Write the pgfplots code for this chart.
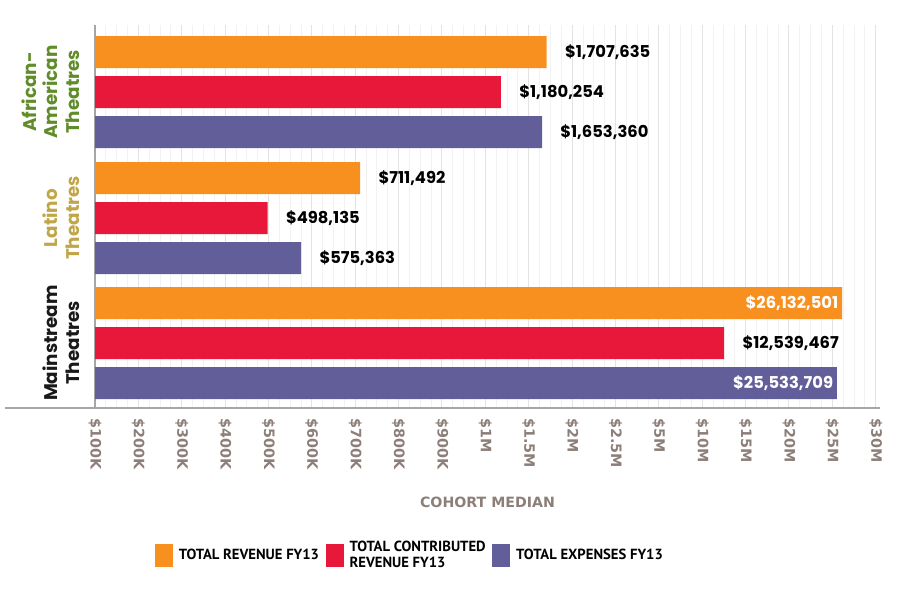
\documentclass[border=0pt]{standalone}
\usepackage{fontspec}
\usepackage{pgfplots}
\pgfplotsset{compat=1.18}
\usepackage{pgfplotstable}
\setmainfont{Poppins}
\newfontfamily\ptsans{PT Sans}
\newfontfamily\dejavu{DejaVu Sans}
\definecolor{cOr}{RGB}{247,144,30}
\definecolor{cRd}{RGB}{232,24,58}
\definecolor{cPu}{RGB}{98,94,154}
\definecolor{cGr}{RGB}{96,140,42}
\definecolor{cGo}{RGB}{192,166,72}
\definecolor{cTk}{RGB}{140,126,120}
\newcommand{\inside}[1]{\llap{\color{white}#1\hspace{13.8pt}}}

% v = value in millions of dollars
\pgfplotstableread{
y v lab
0 1.707635 \$1,707,635
3.15 0.711492 \$711,492
6.275 26.132501 \inside{\$26,132,501}
}\revenue
\pgfplotstableread{
y v lab
1 1.180254 \$1,180,254
4.15 0.498135 \$498,135
7.275 12.539467 \$12,539,467
}\contrib
\pgfplotstableread{
y v lab
2 1.653360 \$1,653,360
5.15 0.575363 \$575,363
8.275 25.533709 \inside{\$25,533,709}
}\expenses

\pgfplotsset{
  mybars/.style={
    xbar, bar width=0.8, bar shift=0pt, draw=none,
    nodes near coords, point meta=explicit symbolic,
    nodes near coords style={anchor=west, xshift=10.8pt, text=black,
      inner sep=0pt, font=\fontsize{9.8}{11}\selectfont\bfseries},
  },
  /pgfplots/table/xtr/.style={x expr={(\thisrow{v}<=1) ? (10*\thisrow{v}-1) : ((\thisrow{v}<=2.5) ? (9+2*(\thisrow{v}-1)) : ((\thisrow{v}<=5) ? (12+(\thisrow{v}-2.5)/2.5) : (13+(\thisrow{v}-5)/5)))}},
}

\begin{document}
\begin{tikzpicture}
\path[use as bounding box] (0pt,0pt) rectangle (540pt,360pt);
\begin{axis}[
  at={(57pt,115.2pt)}, anchor=south west,
  scale only axis, width=471pt, height=229.8pt,
  xmin=0, xmax=18.1,
  ymin=-0.675, ymax=8.9, y dir=reverse,
  axis x line*=bottom, axis y line*=left,
  axis line style={draw=gray!70, line width=0.9pt, -},
  tick style={draw=none},
  xtick={0,...,18},
  xticklabels={\$100K,\$200K,\$300K,\$400K,\$500K,\$600K,\$700K,\$800K,\$900K,\$1M,\$1.5M,\$2M,\$2.5M,\$5M,\$10M,\$15M,\$20M,\$25M,\$30M},
  xticklabel style={rotate=-90, anchor=west, inner sep=0pt, text=cTk,
    font=\dejavu\fontsize{8.6}{10}\selectfont\bfseries},
  xticklabel shift=6pt,
  minor x tick num=3,
  xmajorgrids, xminorgrids,
  major grid style={draw=gray!22, line width=0.6pt},
  minor grid style={draw=gray!10, line width=0.5pt},
  ytick={1,4.15,7.275},
  yticklabels={{\textcolor{cGr}{African-}\\\textcolor{cGr}{American}\\\textcolor{cGr}{Theatres}},{\textcolor{cGo}{Latino}\\\textcolor{cGo}{Theatres}},{\textcolor{black!90}{Mainstream}\\\textcolor{black!90}{Theatres}}},
  yticklabel style={rotate=90, anchor=south, align=center, inner sep=0pt,
    font=\fontsize{11}{13}\selectfont\bfseries},
  yticklabel shift=9pt,
  xlabel={COHORT MEDIAN},
  xlabel style={at={(axis description cs:0.5,0)}, anchor=center, yshift=-56.4pt,
    text=cTk, font=\dejavu\fontsize{8.5}{10}\selectfont\bfseries},
  clip=false,
  legend columns=3,
  legend cell align=left,
  legend style={draw=none, fill=none, at={(axis description cs:0.402,-0.384)}, anchor=center,
    font=\ptsans\fontsize{8.8}{9.6}\selectfont\bfseries,
    cells={align=left},
    /tikz/every odd column/.append style={column sep=0pt},
    /tikz/every even column/.append style={column sep=2pt}},
  legend image code/.code={\fill[#1] (0pt,-6.9pt) rectangle (10.8pt,6.9pt); \path (12.3pt,0pt);},
]
\addplot[mybars, fill=cOr] table[xtr, y=y, meta=lab] {\revenue};
\addplot[mybars, fill=cRd] table[xtr, y=y, meta=lab] {\contrib};
\addplot[mybars, fill=cPu] table[xtr, y=y, meta=lab] {\expenses};
\legend{TOTAL REVENUE FY13,{TOTAL CONTRIBUTED\\REVENUE FY13},TOTAL EXPENSES FY13}
\end{axis}
\draw[gray!70, line width=0.9pt] (3pt,115.2pt) -- (57pt,115.2pt);
\end{tikzpicture}
\end{document}
